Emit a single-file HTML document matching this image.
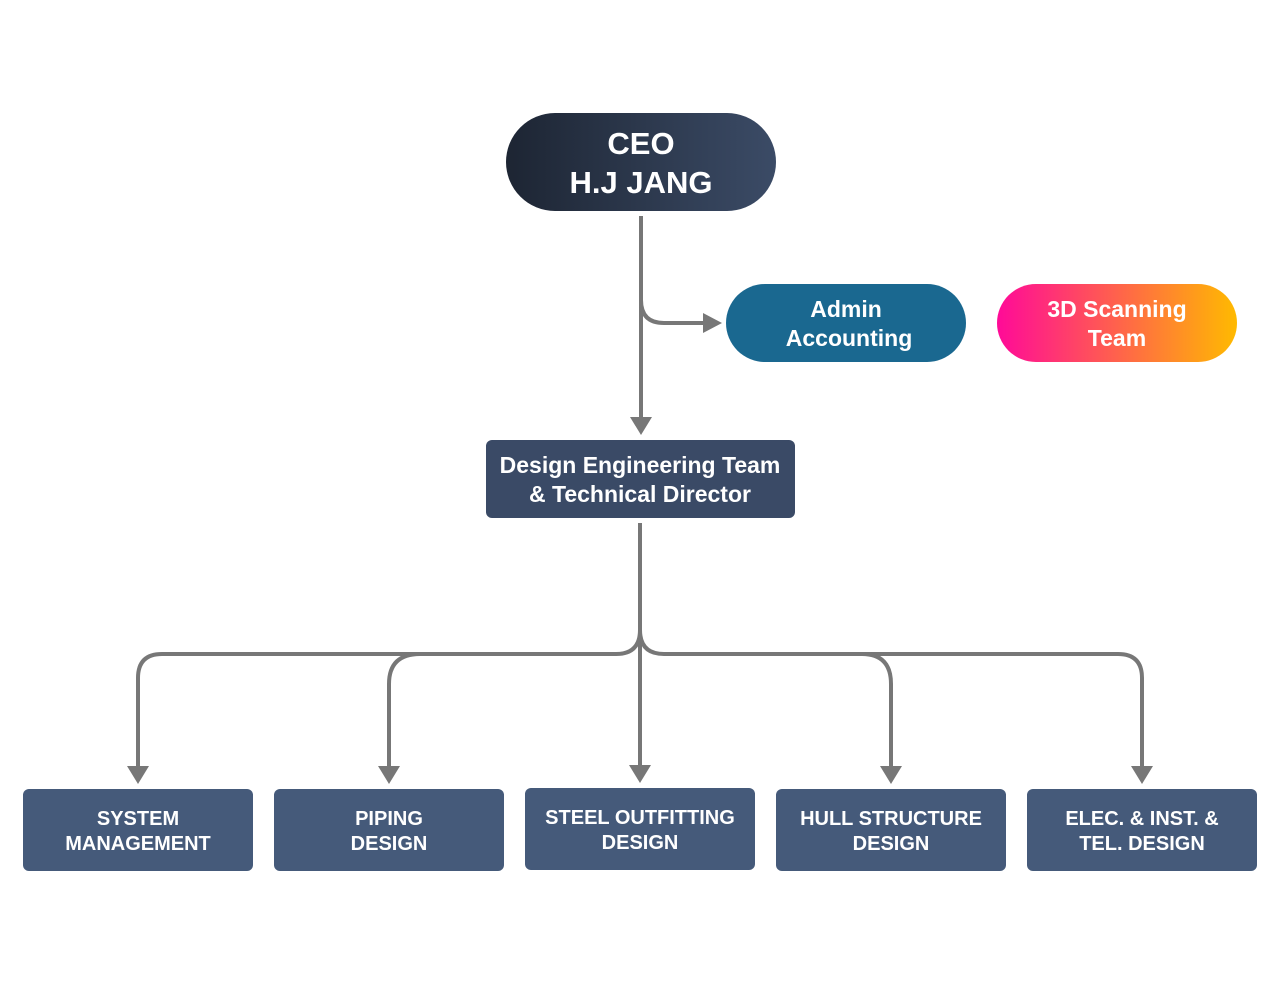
<!DOCTYPE html>
<html><head><meta charset="utf-8"><style>
html,body{margin:0;padding:0;background:#fff;}
svg text{font-family:"Liberation Sans",sans-serif;font-weight:bold;fill:#fff;text-anchor:middle;}
</style></head><body>
<svg width="1280" height="984" viewBox="0 0 1280 984" xmlns="http://www.w3.org/2000/svg">
<defs>
<linearGradient id="ceo" x1="0" y1="0" x2="1" y2="0"><stop offset="0" stop-color="#1d2533"/><stop offset="1" stop-color="#3b4b66"/></linearGradient>
<linearGradient id="scan" x1="0" y1="0" x2="1" y2="0"><stop offset="0" stop-color="#ff0a98"/><stop offset="1" stop-color="#ffba00"/></linearGradient>
</defs>
<g fill="none" stroke="#777" stroke-width="4">
<path d="M641 216 V420"/>
<path d="M641 300 Q641 323 664 323 H706"/>
<path d="M640 523 V768"/>
<path d="M640 630 Q640 654 616 654 H162 Q138 654 138 678 V768"/>
<path d="M420 654 Q389 654 389 684 V768"/>
<path d="M640 630 Q640 654 664 654 H1118 Q1142 654 1142 678 V768"/>
<path d="M862 654 Q891 654 891 684 V768"/>
</g>
<g fill="#777">
<polygon points="630,417 652,417 641,435"/>
<polygon points="703,313 703,333 722,323"/>
<polygon points="127,766 149,766 138,784"/>
<polygon points="378,766 400,766 389,784"/>
<polygon points="629,765 651,765 640,783"/>
<polygon points="880,766 902,766 891,784"/>
<polygon points="1131,766 1153,766 1142,784"/>
</g>
<rect x="506" y="113" width="270" height="98" rx="49" fill="url(#ceo)"/>
<text x="641" y="154" font-size="31">CEO</text>
<text x="641" y="193" font-size="31">H.J JANG</text>
<rect x="726" y="284" width="240" height="78" rx="39" fill="#1a6890"/>
<text x="846" y="317" font-size="23">Admin</text>
<text x="849" y="346" font-size="23">Accounting</text>
<rect x="997" y="284" width="240" height="78" rx="39" fill="url(#scan)"/>
<text x="1117" y="317" font-size="23">3D Scanning</text>
<text x="1117" y="346" font-size="23">Team</text>
<rect x="486" y="440" width="309" height="78" rx="6" fill="#3a4a66"/>
<text x="640" y="473" font-size="23">Design Engineering Team</text>
<text x="640" y="502" font-size="23">&amp; Technical Director</text>
<g font-size="20">
<rect x="23" y="789" width="230" height="82" rx="6" fill="#455a7a"/>
<text x="138" y="825" font-size="20">SYSTEM</text><text x="138" y="850" font-size="20">MANAGEMENT</text>
<rect x="274" y="789" width="230" height="82" rx="6" fill="#455a7a"/>
<text x="389" y="825" font-size="20">PIPING</text><text x="389" y="850" font-size="20">DESIGN</text>
<rect x="525" y="788" width="230" height="82" rx="6" fill="#455a7a"/>
<text x="640" y="824" font-size="20">STEEL OUTFITTING</text><text x="640" y="849" font-size="20">DESIGN</text>
<rect x="776" y="789" width="230" height="82" rx="6" fill="#455a7a"/>
<text x="891" y="825" font-size="20">HULL STRUCTURE</text><text x="891" y="850" font-size="20">DESIGN</text>
<rect x="1027" y="789" width="230" height="82" rx="6" fill="#455a7a"/>
<text x="1142" y="825" font-size="20">ELEC. &amp; INST. &amp;</text><text x="1142" y="850" font-size="20">TEL. DESIGN</text>
</g>
</svg>
</body></html>
